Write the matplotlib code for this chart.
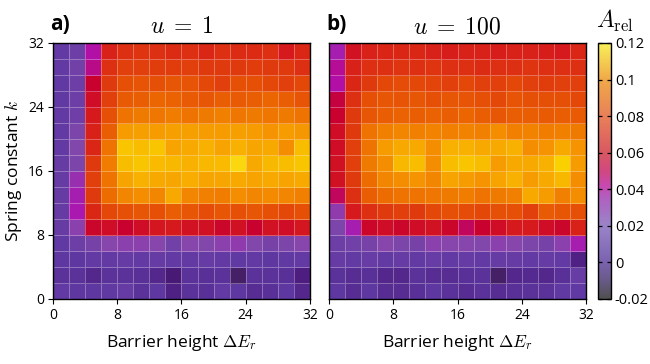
import numpy as np
import matplotlib
matplotlib.use("Agg")
import matplotlib.pyplot as plt
from matplotlib.colors import LinearSegmentedColormap, Normalize
from matplotlib.cm import ScalarMappable

plt.rcParams['font.family'] = ['Open Sans', 'DejaVu Sans']
plt.rcParams['mathtext.fontset'] = 'cm'

# ---------------- data ----------------
barrier_edges = np.arange(0, 34, 2)   # Delta E_r
spring_edges = np.arange(0, 34, 2)    # k
x_ticks = [0, 8, 16, 24, 32]
y_ticks = [0, 8, 16, 24, 32]
cbar_ticks = [-0.02, 0.0, 0.02, 0.04, 0.06, 0.08, 0.10, 0.12]
cbar_labels = ["-0.02", "0", "0.02", "0.04", "0.06", "0.08", "0.1", "0.12"]
titles = [r"$u\;=\;1$", r"$u\;=\;100$"]
panel_labels = ["a)", "b)"]

# rows listed from top (k = 30-32) to bottom (k = 0-2)
A_u1 = [
    [0.002, 0.006, 0.036, 0.060, 0.064, 0.065, 0.064, 0.063, 0.064, 0.062, 0.064, 0.063, 0.063, 0.064, 0.058, 0.062],
    [0.002, 0.008, 0.040, 0.064, 0.068, 0.068, 0.067, 0.067, 0.068, 0.066, 0.066, 0.066, 0.067, 0.066, 0.066, 0.064],
    [0.001, 0.006, 0.050, 0.066, 0.072, 0.073, 0.072, 0.074, 0.073, 0.070, 0.068, 0.072, 0.072, 0.070, 0.068, 0.070],
    [0.001, 0.006, 0.054, 0.068, 0.075, 0.076, 0.078, 0.077, 0.075, 0.074, 0.076, 0.075, 0.076, 0.078, 0.076, 0.073],
    [0.002, 0.007, 0.058, 0.072, 0.082, 0.084, 0.083, 0.085, 0.082, 0.084, 0.086, 0.083, 0.084, 0.083, 0.084, 0.082],
    [0.002, 0.012, 0.060, 0.076, 0.094, 0.095, 0.094, 0.095, 0.095, 0.094, 0.094, 0.095, 0.094, 0.092, 0.094, 0.093],
    [0.002, 0.014, 0.062, 0.082, 0.106, 0.104, 0.106, 0.096, 0.098, 0.100, 0.096, 0.100, 0.097, 0.098, 0.090, 0.104],
    [0.003, 0.012, 0.066, 0.085, 0.104, 0.106, 0.103, 0.102, 0.100, 0.102, 0.103, 0.112, 0.098, 0.102, 0.104, 0.106],
    [0.003, 0.024, 0.068, 0.082, 0.096, 0.100, 0.098, 0.097, 0.099, 0.096, 0.097, 0.098, 0.096, 0.098, 0.096, 0.098],
    [0.003, 0.030, 0.066, 0.080, 0.088, 0.090, 0.088, 0.098, 0.088, 0.086, 0.085, 0.090, 0.088, 0.089, 0.088, 0.086],
    [0.003, 0.032, 0.062, 0.070, 0.072, 0.074, 0.072, 0.076, 0.074, 0.071, 0.074, 0.072, 0.074, 0.072, 0.070, 0.072],
    [0.003, 0.018, 0.052, 0.054, 0.050, 0.054, 0.057, 0.058, 0.056, 0.055, 0.052, 0.055, 0.050, 0.056, 0.054, 0.057],
    [0.001, 0.006, 0.010, 0.016, 0.018, 0.018, 0.016, 0.008, 0.016, 0.014, 0.018, 0.020, 0.014, 0.010, 0.012, 0.016],
    [0.000, 0.000, 0.002, 0.002, 0.003, 0.002, 0.003, 0.002, 0.002, 0.003, 0.002, 0.001, 0.002, 0.000, 0.001, 0.002],
    [-0.002, -0.002, -0.006, -0.002, -0.002, -0.003, -0.006, -0.012, -0.002, -0.003, -0.002, -0.014, -0.002, -0.002, -0.003, -0.010],
    [0.002, 0.000, 0.000, 0.001, 0.003, -0.002, 0.000, -0.008, -0.002, -0.003, 0.002, 0.000, -0.004, -0.003, 0.000, -0.006],
]

A_u100 = [
    [0.030, 0.056, 0.060, 0.061, 0.062, 0.062, 0.060, 0.059, 0.060, 0.060, 0.059, 0.060, 0.060, 0.059, 0.058, 0.062],
    [0.038, 0.060, 0.064, 0.064, 0.065, 0.064, 0.065, 0.064, 0.064, 0.063, 0.064, 0.064, 0.065, 0.064, 0.064, 0.064],
    [0.036, 0.062, 0.066, 0.070, 0.071, 0.070, 0.069, 0.068, 0.070, 0.068, 0.068, 0.070, 0.068, 0.067, 0.068, 0.068],
    [0.048, 0.064, 0.072, 0.074, 0.073, 0.074, 0.072, 0.074, 0.073, 0.072, 0.070, 0.073, 0.072, 0.072, 0.072, 0.070],
    [0.050, 0.066, 0.074, 0.076, 0.077, 0.076, 0.077, 0.076, 0.078, 0.076, 0.074, 0.076, 0.076, 0.075, 0.076, 0.075],
    [0.054, 0.066, 0.082, 0.086, 0.088, 0.086, 0.087, 0.086, 0.087, 0.086, 0.090, 0.086, 0.087, 0.085, 0.086, 0.084],
    [0.054, 0.068, 0.082, 0.094, 0.098, 0.098, 0.090, 0.100, 0.100, 0.098, 0.098, 0.100, 0.090, 0.092, 0.098, 0.092],
    [0.055, 0.068, 0.084, 0.090, 0.102, 0.104, 0.090, 0.104, 0.106, 0.104, 0.094, 0.098, 0.098, 0.100, 0.110, 0.094],
    [0.055, 0.066, 0.080, 0.088, 0.090, 0.092, 0.088, 0.096, 0.094, 0.092, 0.096, 0.100, 0.094, 0.098, 0.102, 0.090],
    [0.045, 0.064, 0.076, 0.080, 0.082, 0.082, 0.083, 0.084, 0.085, 0.082, 0.084, 0.086, 0.098, 0.094, 0.086, 0.090],
    [0.020, 0.058, 0.064, 0.066, 0.068, 0.066, 0.070, 0.072, 0.071, 0.070, 0.072, 0.072, 0.068, 0.075, 0.074, 0.072],
    [0.012, 0.030, 0.052, 0.054, 0.052, 0.054, 0.056, 0.052, 0.045, 0.050, 0.054, 0.058, 0.058, 0.054, 0.052, 0.060],
    [0.006, 0.008, 0.010, 0.016, 0.012, 0.010, 0.018, 0.016, 0.016, 0.014, 0.018, 0.016, 0.012, 0.010, 0.018, 0.030],
    [0.003, 0.002, 0.004, 0.002, 0.003, 0.002, 0.004, 0.002, 0.003, 0.002, 0.003, 0.003, 0.002, 0.003, 0.002, -0.008],
    [-0.002, -0.004, -0.003, -0.006, -0.006, -0.002, -0.004, -0.004, -0.003, -0.002, -0.014, -0.006, -0.005, -0.006, -0.003, 0.004],
    [0.000, -0.004, 0.000, -0.004, -0.004, -0.003, 0.000, -0.002, -0.004, -0.002, -0.004, -0.003, -0.002, -0.002, 0.001, 0.001],
]

VMIN, VMAX = -0.02, 0.12

# ---------------- colour maps ----------------
heat_stops = [(-0.02, '#3a3040'), (-0.012, '#4a1878'), (0.0, '#5e38a2'), (0.015, '#8448ac'),
              (0.035, '#b010b0'), (0.05, '#c80030'), (0.06, '#d82018'), (0.07, '#e44808'),
              (0.08, '#ec6c00'), (0.09, '#f48c00'), (0.10, '#f8b000'), (0.11, '#fad000'),
              (0.12, '#f8f040')]
cbar_stops = [(-0.02, '#505050'), (-0.01, '#685a88'), (0.0, '#7a62b0'), (0.02, '#9a84c8'),
              (0.035, '#b060c0'), (0.042, '#c848b0'), (0.05, '#d04880'), (0.06, '#d85862'),
              (0.08, '#e88058'), (0.10, '#f0a848'), (0.12, '#f8f058')]


def make_cmap(stops, name):
    return LinearSegmentedColormap.from_list(
        name, [((v - VMIN) / (VMAX - VMIN), c) for v, c in stops])


heat_cmap = make_cmap(heat_stops, 'heat')
bar_cmap = make_cmap(cbar_stops, 'bar')
norm = Normalize(VMIN, VMAX)

fig = plt.figure(figsize=(6.5, 3.64), dpi=100)
ax_a = fig.add_axes([0.0815, 0.1786, 0.3954, 0.7033])
ax_b = fig.add_axes([0.5062, 0.1786, 0.3954, 0.7033])
cax = fig.add_axes([0.920, 0.1786, 0.0195, 0.7033])

for i, (ax, data) in enumerate(zip([ax_a, ax_b], [A_u1, A_u100])):
    Z = np.flipud(np.array(data))
    ax.pcolormesh(barrier_edges, spring_edges, Z, cmap=heat_cmap, norm=norm,
                  edgecolors=(1, 1, 1, 0.3), linewidth=0.6)
    ax.set_xlim(0, 32)
    ax.set_ylim(0, 32)
    ax.set_xticks(x_ticks)
    ax.set_yticks(y_ticks)
    ax.tick_params(direction='out', length=3.5, width=0.8, labelsize=10, pad=3)
    for s in ax.spines.values():
        s.set_linewidth(1.0)
    ax.set_xlabel(r"Barrier height $\Delta E_r$", fontsize=12.5, labelpad=7)
    ax.set_title(titles[i], fontsize=17, pad=7)
    ax.text(-0.012, 1.03, panel_labels[i], transform=ax.transAxes, fontsize=15,
            fontweight='bold', ha='left', va='bottom')

ax_a.set_ylabel(r"Spring constant $k$", fontsize=12.5, labelpad=3)
ax_b.tick_params(axis='y', left=False, labelleft=False)

sm = ScalarMappable(norm=norm, cmap=bar_cmap)
cb = fig.colorbar(sm, cax=cax)
cb.outline.set_linewidth(1.0)
cb.set_ticks(cbar_ticks)
cb.set_ticklabels(cbar_labels)
cax.tick_params(direction='in', length=3, width=0.9, labelsize=10.5, left=True, right=True, pad=3)
cax.text(1.35, 1.035, r"$A_{\rm rel}$", transform=cax.transAxes, fontsize=17,
         ha='center', va='bottom')

fig.savefig("out.png", dpi=100)
